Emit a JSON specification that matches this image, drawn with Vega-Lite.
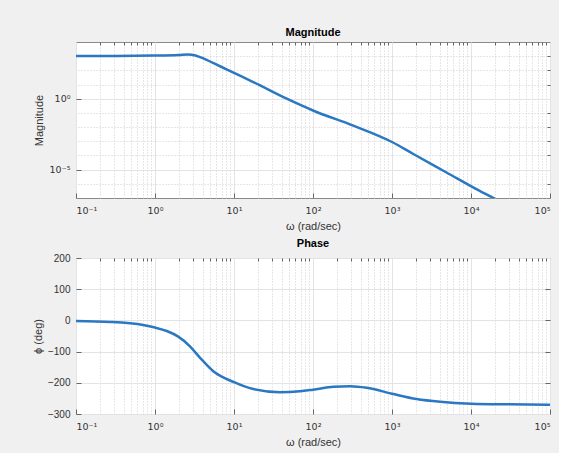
{
  "$schema": "https://vega.github.io/schema/vega-lite/v6.json",
  "background": "#f0f0f0",
  "padding": {"left": 31, "top": 26, "right": 8, "bottom": 5},
  "spacing": 5,
  "config": {
    "font": "Liberation Sans",
    "view": {"fill": "white", "stroke": "#8a8a8a", "strokeWidth": 1},
    "axis": {
      "domain": false,
      "labelFont": "Liberation Sans",
      "labelFontSize": 10,
      "labelColor": "#333333",
      "titleFont": "Liberation Sans",
      "titleFontSize": 11,
      "titleFontWeight": "normal",
      "titleColor": "#333333",
      "tickColor": "#666666",
      "gridColor": "#e3e3e3",
      "gridOpacity": 1
    },
    "title": {"fontSize": 11, "fontWeight": "bold", "color": "#000000", "offset": 0, "font": "Liberation Sans"}
  },
  "datasets": {
    "mag": [
      {"w": 0.1, "m": 1047},
      {"w": 0.316, "m": 1047},
      {"w": 1, "m": 1096},
      {"w": 2.0, "m": 1202},
      {"w": 2.63, "m": 1318},
      {"w": 3.16, "m": 1175},
      {"w": 3.72, "m": 851},
      {"w": 6.65, "m": 195},
      {"w": 10, "m": 66},
      {"w": 17.5, "m": 15.1},
      {"w": 46.5, "m": 1.0},
      {"w": 100, "m": 0.148},
      {"w": 324, "m": 0.0126},
      {"w": 1000, "m": 0.00089},
      {"w": 1862, "m": 0.000126},
      {"w": 4898, "m": 0.0000063},
      {"w": 12882, "m": 0.000000316},
      {"w": 19953, "m": 0.000000089},
      {"w": 31623, "m": 0.00000002}
    ],
    "phase": [
      {"w": 0.1, "p": -2},
      {"w": 0.27, "p": -5},
      {"w": 0.71, "p": -15},
      {"w": 1.0, "p": -23},
      {"w": 1.41, "p": -34},
      {"w": 1.97, "p": -52},
      {"w": 2.77, "p": -83},
      {"w": 3.72, "p": -120},
      {"w": 5.47, "p": -163},
      {"w": 10, "p": -198},
      {"w": 17.5, "p": -220},
      {"w": 38, "p": -230},
      {"w": 68.4, "p": -227},
      {"w": 100, "p": -222},
      {"w": 182, "p": -213},
      {"w": 295, "p": -211},
      {"w": 479, "p": -216},
      {"w": 1000, "p": -235},
      {"w": 2042, "p": -252},
      {"w": 4074, "p": -261},
      {"w": 10000, "p": -267},
      {"w": 30000, "p": -269},
      {"w": 100000, "p": -270}
    ]
  },
  "vconcat": [
    {
      "width": 474,
      "height": 156,
      "title": "Magnitude",
      "data": {"name": "mag"},
      "layer": [
        {
          "mark": {"type": "line", "interpolate": "monotone", "clip": true, "color": "#2b78c2", "strokeWidth": 2.5},
          "encoding": {
            "x": {"field": "w", "type": "quantitative",
              "scale": {"type": "log", "domain": [0.1, 100000], "nice": false},
              "axis": {"orient": "bottom", "values": [0.1, 1, 10, 100, 1000, 10000, 100000],
                "labelExpr": "'10' + ['⁻¹','⁰','¹','²','³','⁴','⁵'][round(log(datum.value)/LN10)+1]",
                "labelFont": "DejaVu Sans", "labelFontSize": 9.5,
                "title": "ω (rad/sec)", "titlePadding": 6, "grid": true, "tickSize": -5, "labelPadding": 12}},
            "y": {"field": "m", "type": "quantitative",
              "scale": {"type": "log", "domain": [1e-7, 10000], "nice": false},
              "axis": {"orient": "left", "values": [0.00001, 1],
                "labelExpr": "datum.value < 0.5 ? '10⁻⁵' : '10⁰'",
                "labelFont": "DejaVu Sans", "labelFontSize": 9.5,
                "title": "Magnitude", "titlePadding": 5, "grid": true, "tickSize": -5, "labelPadding": 11}}
          }
        },
        {
          "mark": {"type": "line", "interpolate": "monotone", "clip": true, "strokeOpacity": 0},
          "encoding": {
            "x": {"field": "w", "type": "quantitative",
              "scale": {"type": "log", "domain": [0.1, 100000], "nice": false},
              "axis": {"orient": "top", "values": [0.2,0.3,0.4,0.5,0.6,0.7,0.8,0.9,2,3,4,5,6,7,8,9,20,30,40,50,60,70,80,90,200,300,400,500,600,700,800,900,2000,3000,4000,5000,6000,7000,8000,9000,20000,30000,40000,50000,60000,70000,80000,90000],
                "labels": false, "title": null, "grid": true, "gridDash": [1, 2], "gridColor": "#cfcfcf", "tickSize": -3}},
            "y": {"field": "m", "type": "quantitative",
              "scale": {"type": "log", "domain": [1e-7, 10000], "nice": false},
              "axis": {"orient": "right", "values": [0.000001, 0.0001, 0.001, 0.01, 0.1, 10, 100, 1000],
                "labels": false, "title": null, "grid": true, "gridDash": [1, 2], "gridColor": "#cfcfcf", "tickSize": -3}}
          }
        }
      ],
      "resolve": {"axis": {"x": "independent", "y": "independent"}}
    },
    {
      "width": 474,
      "height": 156,
      "title": "Phase",
      "data": {"name": "phase"},
      "layer": [
        {
          "mark": {"type": "line", "interpolate": "monotone", "clip": true, "color": "#2b78c2", "strokeWidth": 2.5},
          "encoding": {
            "x": {"field": "w", "type": "quantitative",
              "scale": {"type": "log", "domain": [0.1, 100000], "nice": false},
              "axis": {"orient": "bottom", "values": [0.1, 1, 10, 100, 1000, 10000, 100000],
                "labelExpr": "'10' + ['⁻¹','⁰','¹','²','³','⁴','⁵'][round(log(datum.value)/LN10)+1]",
                "labelFont": "DejaVu Sans", "labelFontSize": 9.5,
                "title": "ω (rad/sec)", "titlePadding": 6, "grid": true, "tickSize": -5, "labelPadding": 12}},
            "y": {"field": "p", "type": "quantitative",
              "scale": {"domain": [-300, 200], "nice": false, "zero": false},
              "axis": {"orient": "left", "values": [-300, -200, -100, 0, 100, 200],
                "title": "ϕ (deg)", "titlePadding": 4, "grid": true, "tickSize": -5, "labelPadding": 11}}
          }
        },
        {
          "mark": {"type": "line", "interpolate": "monotone", "clip": true, "strokeOpacity": 0},
          "encoding": {
            "x": {"field": "w", "type": "quantitative",
              "scale": {"type": "log", "domain": [0.1, 100000], "nice": false},
              "axis": {"orient": "top", "values": [0.2,0.3,0.4,0.5,0.6,0.7,0.8,0.9,2,3,4,5,6,7,8,9,20,30,40,50,60,70,80,90,200,300,400,500,600,700,800,900,2000,3000,4000,5000,6000,7000,8000,9000,20000,30000,40000,50000,60000,70000,80000,90000],
                "labels": false, "title": null, "grid": true, "gridDash": [1, 2], "gridColor": "#cfcfcf", "tickSize": -3}},
            "y": {"field": "p", "type": "quantitative",
              "scale": {"domain": [-300, 200], "nice": false, "zero": false},
              "axis": {"orient": "right", "values": [-200, -100, 0, 100],
                "labels": false, "title": null, "grid": false, "tickSize": -5}}
          }
        }
      ],
      "resolve": {"axis": {"x": "independent", "y": "independent"}}
    }
  ]
}
